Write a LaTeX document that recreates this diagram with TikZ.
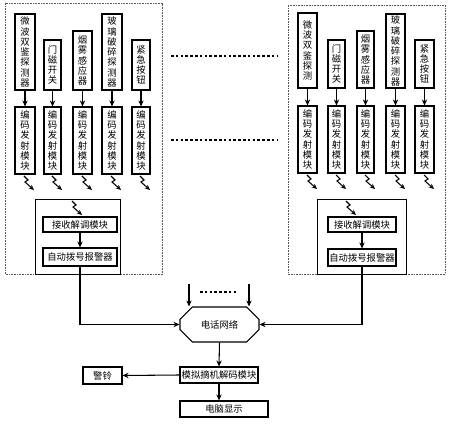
\documentclass[tikz,border=0pt]{standalone}
\usepackage{fontspec}
\newfontfamily\cjk{Noto Sans CJK SC}
\usetikzlibrary{arrows.meta,shapes.misc}
\tikzset{
  bx/.style={draw, line width=0.8pt, inner sep=0pt, align=center,
    font=\cjk\fontsize{7}{7.7}\selectfont},
  arr/.style={line width=0.8pt, -{Stealth[length=4.5pt,width=4pt]}},
  ln/.style={line width=0.8pt},
  boltst/.style={line width=0.8pt, -{Stealth[length=4pt,width=3.5pt]}},
  outer/.style={draw, line width=0.5pt, dash pattern=on 1.2pt off 0.8pt, gray!70!black},
  inner/.style={draw, line width=0.5pt},
  dots/.style={line width=2pt, dash pattern=on 2pt off 1.6pt}
}
\newcommand\bx[6]{\node[bx, minimum width={(#4-#2)*0.75pt}, minimum height={(#5-#3)*0.75pt}] (#1) at ({(#2+#4)/2},{(#3+#5)/2}) {#6};}
\newcommand\bolt[3]{\coordinate (#1) at (#2,#3); \draw[boltst] (#1) -- ++(4,4) -- ++(-3,2) -- ++(9,8);}
\newcommand\enc{编\\码\\发\\射\\模\\块}
\begin{document}
\begin{tikzpicture}[x=0.75pt,y=-0.75pt]
\useasboundingbox (0,0) rectangle (450,424);
% outer dashed boxes
\draw[outer] (5,3) rectangle (162,274);
\draw[outer] (288,5) rectangle (445,274);
% inner boxes
\draw[inner] (35,199) rectangle (120,274);
\draw[inner] (317,199) rectangle (406,274);
% left sensors
\bx{ls1}{15}{14}{35}{90}{微\\波\\双\\鉴\\探\\测\\器}
\bx{ls2}{44}{40}{61}{90}{门\\磁\\开\\关}
\bx{ls3}{73}{31}{92}{90}{烟\\雾\\感\\应\\器}
\bx{ls4}{102}{14}{122}{90}{玻\\璃\\破\\碎\\探\\测\\器}
\bx{ls5}{132}{40}{150}{90}{紧\\急\\按\\钮}
% left encoders
\bx{le1}{15}{107}{35}{174}{\enc}
\bx{le2}{44}{107}{61}{174}{\enc}
\bx{le3}{73}{107}{92}{174}{\enc}
\bx{le4}{102}{107}{122}{174}{\enc}
\bx{le5}{132}{107}{150}{174}{\enc}
\foreach \i in {1,...,5}{\draw[arr] (ls\i) -- (le\i);}
% right sensors
\bx{rs1}{298}{13}{317}{88}{微\\波\\双\\鉴\\探\\测}
\bx{rs2}{328}{40}{345}{88}{门\\磁\\开\\关}
\bx{rs3}{357}{31}{374}{88}{烟\\雾\\感\\应\\器}
\bx{rs4}{386}{14}{405}{88}{玻\\璃\\破\\碎\\探\\测\\器}
\bx{rs5}{415}{40}{434}{88}{紧\\急\\按\\钮}
\bx{re1}{298}{106}{317}{173}{\enc}
\bx{re2}{328}{106}{345}{173}{\enc}
\bx{re3}{357}{106}{374}{173}{\enc}
\bx{re4}{386}{106}{405}{173}{\enc}
\bx{re5}{415}{106}{434}{173}{\enc}
\foreach \i in {1,...,5}{\draw[arr] (rs\i) -- (re\i);}
% bolts
\bolt{b1}{24}{176}\bolt{b2}{52}{176}\bolt{b3}{82}{176}\bolt{b4}{111}{176}\bolt{b5}{140}{176}
\bolt{b6}{307}{175}\bolt{b7}{336}{175}\bolt{b8}{365}{175}\bolt{b9}{395}{175}\bolt{b10}{424}{175}
\bolt{b11}{72}{201}\bolt{b12}{346}{201}
% receivers
\bx{lr}{43}{217}{117}{232}{接收解调模块}
\bx{la}{43}{248}{117}{266}{自动拨号报警器}
\bx{rr}{328}{217}{396}{232}{接收解调模块}
\bx{ra}{328}{249}{396}{266}{自动拨号报警器}
\draw[arr] (lr) -- (la);
\draw[arr] (rr) -- (ra);
% dots
\draw[dots] (171,56) -- (277,56);
\draw[dots] (171,140) -- (277,140);
\draw[dots] (200,292) -- (238,292);
% telephone network
\node[bx, chamfered rectangle, chamfered rectangle xsep=6pt, chamfered rectangle ysep=6pt,
  minimum width={79*0.75pt}, minimum height={35*0.75pt}] (tel) at (219.5,324.5) {电话网络};
\coordinate (t1) at (189,284);
\coordinate (t2) at (249,284);
\draw[arr] (t1) -- (t1 |- tel.north);
\draw[arr] (t2) -- (t2 |- tel.north);
\draw[arr] (la.south) |- (tel.west);
\draw[arr] (ra.south) |- (tel.east);
\bx{mod}{180}{367}{258}{383}{模拟摘机解码模块}
\bx{bell}{83}{367}{122}{384}{警铃}
\bx{pc}{180}{401}{268}{417}{电脑显示}
\draw[arr] (tel.south) -- (mod.north);
\draw[arr] (mod.west) -- (bell.east);
\draw[arr] (mod.south) -- (mod.south |- pc.north);
\end{tikzpicture}
\end{document}
